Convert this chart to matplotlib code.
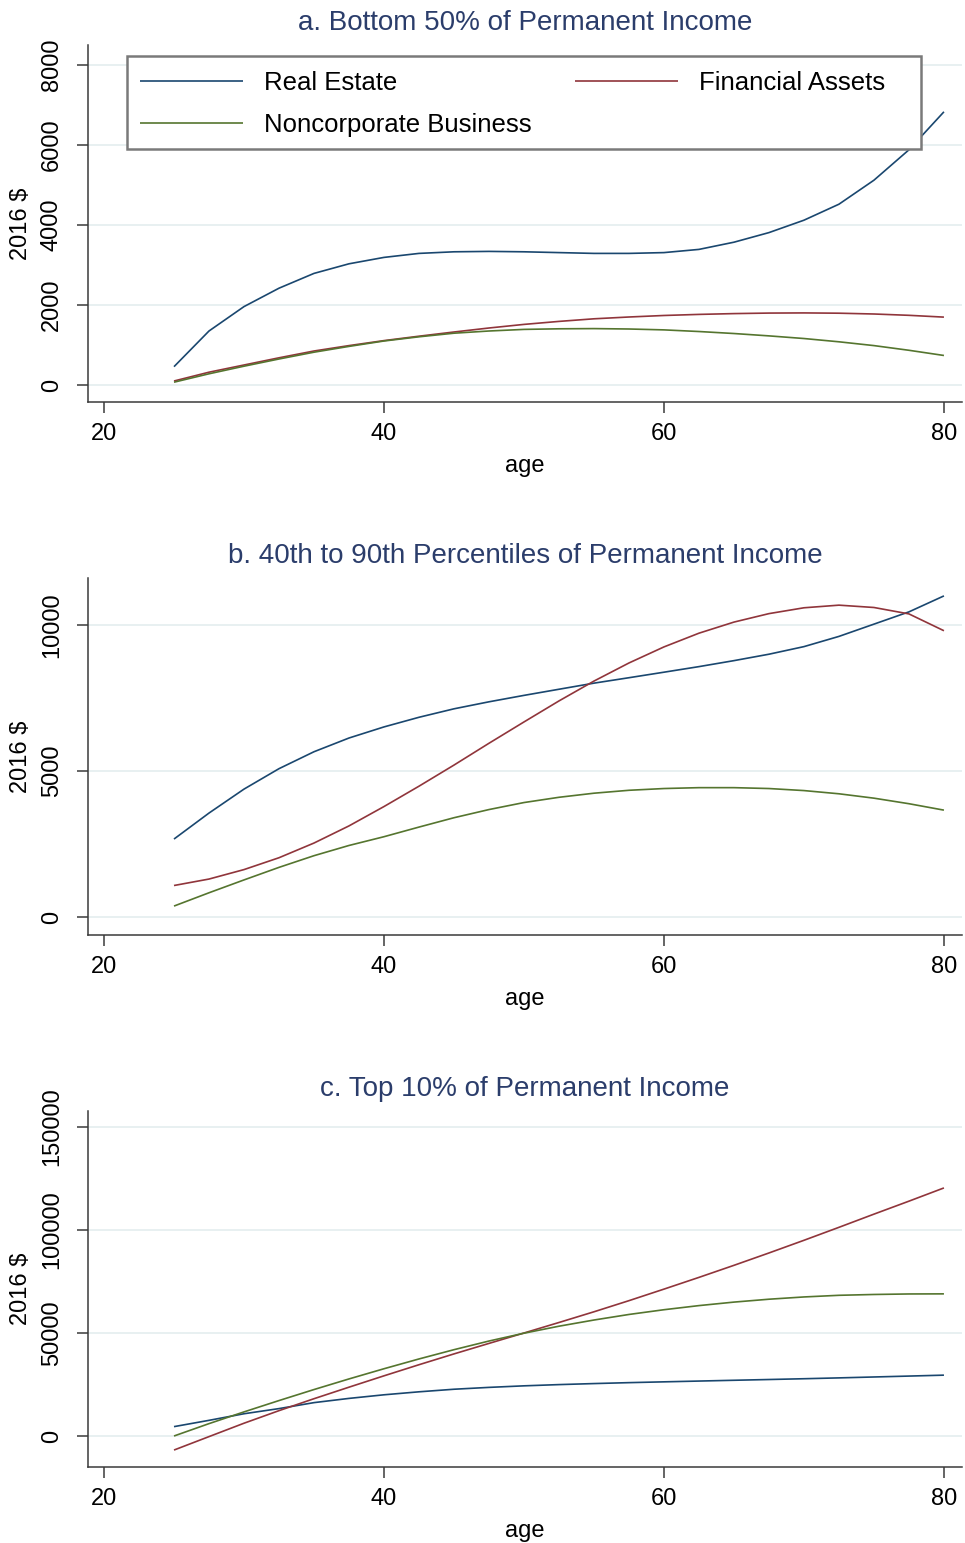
import matplotlib
matplotlib.use("Agg")
import matplotlib.pyplot as plt
from matplotlib.patches import Rectangle

plt.rcParams['font.family'] = ['Liberation Sans', 'DejaVu Sans']

ages = [25, 27.5, 30, 32.5, 35, 37.5, 40, 42.5, 45, 47.5, 50, 52.5, 55,
        57.5, 60, 62.5, 65, 67.5, 70, 72.5, 75, 77.5, 80]

# Panel a: Bottom 50%
a_real = [458, 1350, 1960, 2420, 2790, 3030, 3190, 3290, 3330, 3340, 3330, 3310, 3290,
          3290, 3310, 3390, 3570, 3810, 4120, 4520, 5120, 5880, 6830]
a_fin = [100, 320, 500, 680, 850, 985, 1110, 1220, 1325, 1425, 1515, 1590, 1655,
         1700, 1738, 1765, 1785, 1798, 1802, 1795, 1775, 1742, 1697]
a_bus = [70, 280, 470, 650, 820, 965, 1100, 1205, 1295, 1350, 1390, 1405, 1410,
         1400, 1378, 1337, 1287, 1228, 1162, 1080, 985, 868, 738]

# Panel b: 40th to 90th percentiles
b_real = [2670, 3560, 4380, 5080, 5660, 6130, 6510, 6840, 7130, 7370, 7590, 7800, 8009,
          8195, 8384, 8575, 8780, 9000, 9260, 9610, 10030, 10450, 10997]
b_fin = [1079, 1300, 1624, 2030, 2533, 3120, 3783, 4480, 5203, 5950, 6680, 7400, 8080,
         8700, 9250, 9720, 10100, 10390, 10590, 10680, 10600, 10380, 9804]
b_bus = [375, 830, 1270, 1700, 2100, 2450, 2750, 3080, 3400, 3680, 3920, 4100, 4240,
         4340, 4400, 4430, 4430, 4400, 4330, 4220, 4070, 3880, 3660]

# Panel c: Top 10%
c_real = [4545, 7600, 10800, 13300, 16200, 18250, 20000, 21450, 22700, 23600, 24350, 24950, 25450,
          25900, 26290, 26670, 27050, 27420, 27800, 28210, 28650, 29090, 29540]
c_fin = [-6820, -300, 6200, 12300, 18100, 23700, 29210, 34600, 39850, 44950, 50000, 55100, 60300,
         65700, 71300, 77000, 82850, 88850, 95000, 101300, 107700, 114000, 120430]
c_bus = [0, 6000, 11700, 17200, 22550, 27700, 32650, 37400, 41900, 46100, 49900, 53300, 56300,
         59000, 61300, 63300, 65000, 66400, 67500, 68300, 68700, 68950, 69000]

titles = ["a. Bottom 50% of Permanent Income",
          "b. 40th to 90th Percentiles of Permanent Income",
          "c. Top 10% of Permanent Income"]
series_labels = ["Real Estate", "Financial Assets", "Noncorporate Business"]
colors = ['#1a476f', '#90353b', '#55752f']
xticks = [20, 40, 60, 80]
yticks_list = [[0, 2000, 4000, 6000, 8000],
               [0, 5000, 10000],
               [0, 50000, 100000, 150000]]
ylims = [(-425, 8500), (-616, 11610), (-15050, 157770)]
panels = [(a_real, a_fin, a_bus), (b_real, b_fin, b_bus), (c_real, c_fin, c_bus)]

W, H = 965, 1543
fig = plt.figure(figsize=(W / 100, H / 100), dpi=100)
fig.patch.set_facecolor('white')

# axes pixel boxes (left, top, right, bottom)
boxes = [(88, 45, 962, 402), (88, 578, 962, 935), (88, 1111, 962, 1467)]
spine_col = '#3a3a3a'
title_col = '#2b3d6b'

for i, (box, data) in enumerate(zip(boxes, panels)):
    l, t, r, b = box
    ax = fig.add_axes([l / W, 1 - b / H, (r - l) / W, (b - t) / H])
    handles = []
    for s, c, lab in zip(data, colors, series_labels):
        h, = ax.plot(ages, s, color=c, lw=1.2, label=lab, solid_capstyle='butt')
        handles.append(h)
    ax.set_xlim(18.857, 81.29)
    ax.set_ylim(*ylims[i])
    ax.set_xticks(xticks)
    ax.set_yticks(yticks_list[i])
    ax.set_yticklabels([str(v) for v in yticks_list[i]], rotation=90, va='center')
    for sp in ['top', 'right']:
        ax.spines[sp].set_visible(False)
    for sp in ['left', 'bottom']:
        ax.spines[sp].set_color(spine_col)
        ax.spines[sp].set_linewidth(1.1)
    ax.tick_params(axis='both', direction='out', length=8, width=1.1, color=spine_col,
                   labelsize=17, labelcolor='black')
    ax.tick_params(axis='x', pad=7)
    ax.tick_params(axis='y', pad=10)
    ax.grid(axis='y', color='#e4eeef', lw=1.2)
    ax.set_axisbelow(True)
    ax.set_title(titles[i], fontsize=20, color=title_col, pad=11)
    ax.set_xlabel('age', fontsize=17)
    ax.xaxis.set_label_coords(0.5, -0.148)
    ax.set_ylabel('2016 $', fontsize=17)
    ax.yaxis.set_label_coords((32 - l) / (r - l), 0.5)

    if i == 0:
        hh = b - t
        ww = r - l
        rect = Rectangle(((127 - l) / ww, (b - 149) / hh), (921 - 127) / ww, (149 - 56) / hh,
                         transform=ax.transAxes, facecolor='white', edgecolor='#7a7a7a',
                         lw=1.8, zorder=5)
        ax.add_patch(rect)
        order = [0, 2, 1]  # column-major fill -> row 1: Real Estate, Financial Assets
        leg = ax.legend([handles[k] for k in order], [series_labels[k] for k in order],
                        ncol=2, loc='upper left', frameon=False,
                        bbox_to_anchor=((140 - l) / ww, (b - 71) / hh),
                        borderaxespad=0, borderpad=0, fontsize=18.5,
                        handlelength=4.0, handletextpad=0.82, columnspacing=1.7,
                        labelspacing=0.71)
        leg.set_zorder(6)
        for ln in leg.get_lines():
            ln.set_linewidth(1.2)

fig.savefig('out.png', dpi=100, facecolor='white')
